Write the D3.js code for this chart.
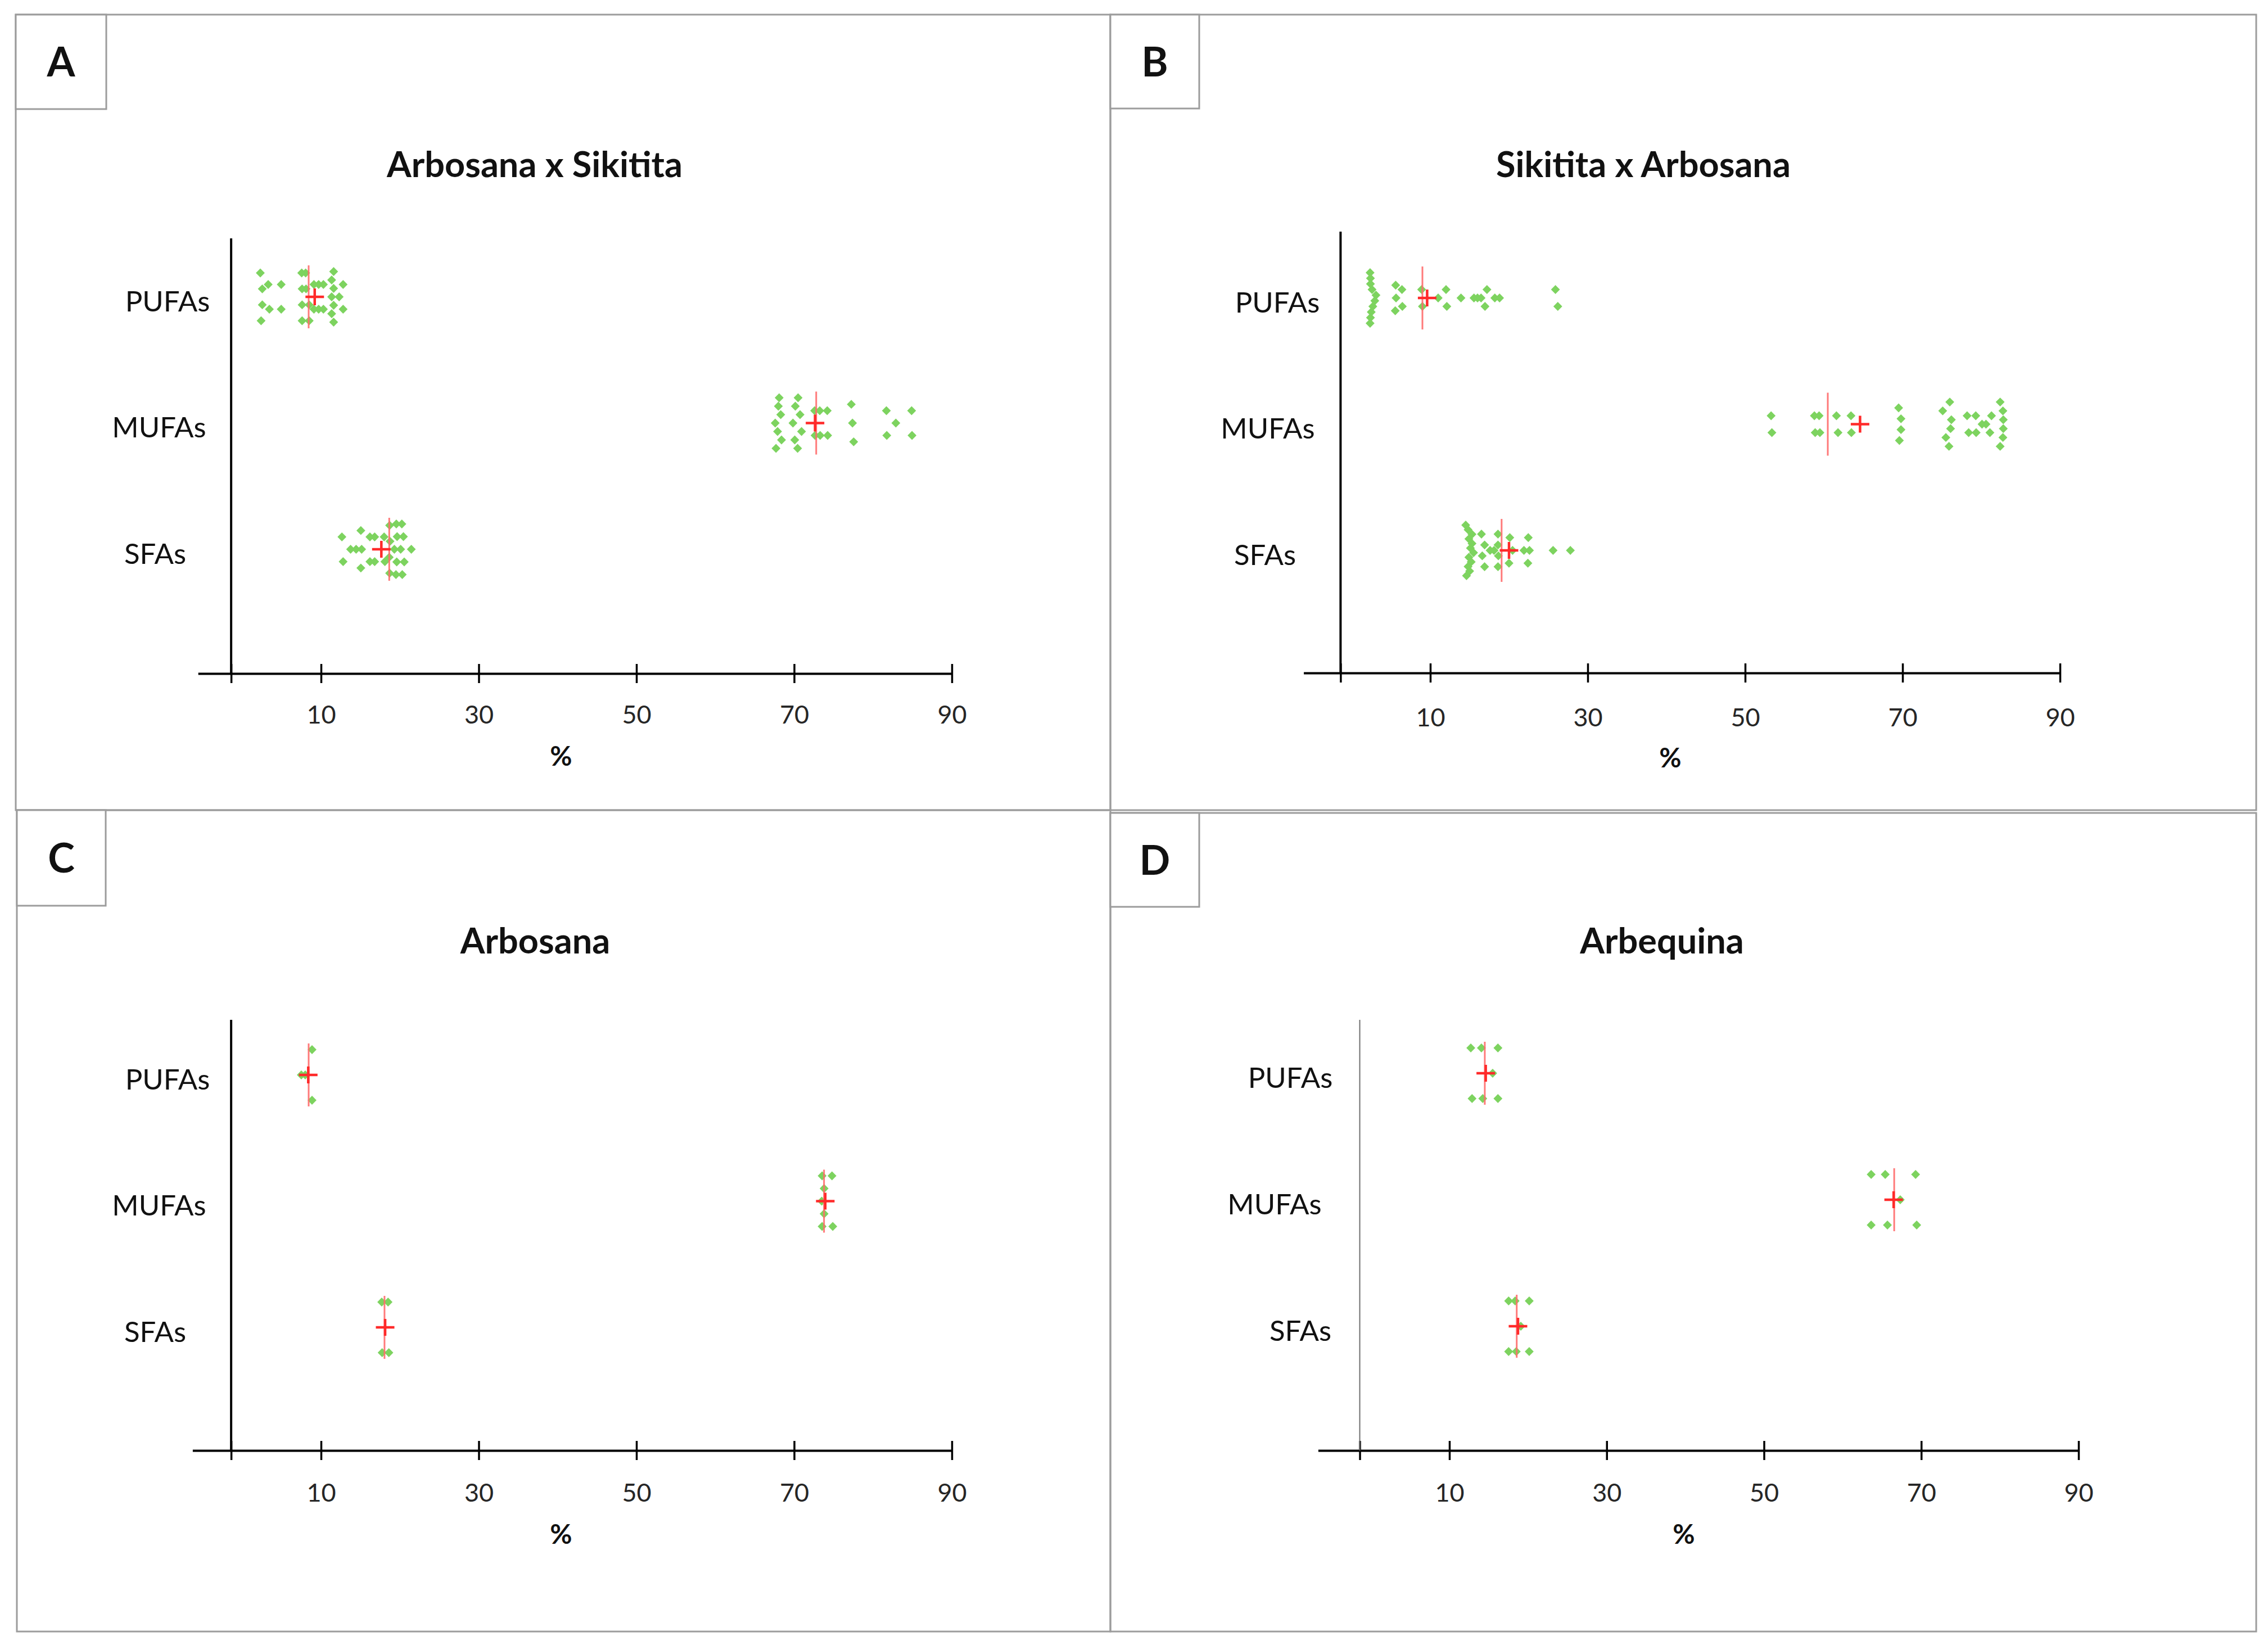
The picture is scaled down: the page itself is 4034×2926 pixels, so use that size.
<!DOCTYPE html>
<html>
<head>
<meta charset="utf-8">
<script src="https://cdn.jsdelivr.net/npm/d3@7"></script>
<style>
  body { margin: 0; background: #fff; }
  text { font-family: Lato, 'Open Sans', sans-serif; }
</style>
</head>
<body>
<div id="chart"></div>
<script>
let W = 4034,
    H = 2926

//#region data
const categories = ['PUFAs', 'MUFAs', 'SFAs']
const panelLetters = ['A', 'B', 'C', 'D']
const panelTitles = ['Arbosana x Sikitita', 'Sikitita x Arbosana', 'Arbosana', 'Arbequina']
const xTickValues = [10, 30, 50, 70, 90]
const xAxisTitle = '%'

// Arbosana x Sikitita (values listed top to bottom inside each column)
const asPUFAs = [2.3, 2.55, 2.55, 2.4, 3.3, 3.45, 4.95, 4.95, 7.55, 7.6, 7.6, 7.6, 8.05, 8.1,
    8.5, 8.5, 9.1, 9.1, 9.7, 9.7, 10.3, 10.3,
    11.6, 11.35, 11.6, 11.35, 11.6, 11.35, 11.6, 12.3, 12.8, 12.8]
const asMUFAs = [68.1, 68.0, 68.3, 67.6, 67.9, 68.4, 67.7,
    70.5, 70.15, 70.75, 69.85, 70.94, 70.08, 70.44,
    72.6, 72.65, 73.25, 73.3, 74.2, 74.25, 77.25, 77.4, 77.55,
    81.7, 81.75, 82.9, 84.9, 84.95]
const asSFAs = [12.65, 12.8, 13.75, 14.45, 15.05, 15.15, 15.05, 16.2, 16.2, 16.8, 16.8, 18.0, 18.1,
    18.7, 18.75, 18.65, 18.7,
    19.55, 19.65, 19.3, 19.6, 19.5,
    20.25, 20.45, 20.1, 20.55, 20.3, 21.45]
const asMeans = [9.2, 72.65, 17.65]
const asMedians = [8.43, 72.8, 18.65]

// Sikitita x Arbosana
const saPUFAs = [2.35, 2.4, 2.4, 2.6, 3.1, 2.95, 2.7, 2.5, 2.4, 2.35,
    5.6, 5.65, 5.55, 6.4, 6.45, 8.9, 9.0, 11.0, 12.0, 12.1, 13.9,
    15.55, 16.0, 16.45, 17.2, 16.95, 18.2, 18.8, 25.9, 26.2]
const saMUFAs = [53.3, 53.4, 58.8, 58.9, 59.4, 59.5, 61.6, 61.8, 63.45, 63.5,
    69.5, 69.8, 69.8, 69.6,
    76.0, 75.1, 76.2, 76.1, 75.5, 75.9,
    78.2, 78.4, 79.3, 79.35, 80.1, 80.6, 81.3, 81.1,
    82.4, 82.75, 82.8, 82.8, 82.75, 82.4]
const saSFAs = [14.5, 14.8, 15.3, 14.9, 15.3, 15.1, 15.5, 14.9, 15.2, 14.8, 15.0, 14.6,
    16.5, 16.9, 16.6, 16.9, 17.6, 18.1, 18.6, 18.6, 18.65, 18.6,
    20.1, 20.45, 20.0, 21.9, 22.45, 22.6, 22.4, 25.6, 27.8]
const saMeans = [9.6, 64.6, 20.0]
const saMedians = [9.0, 60.5, 19.06]

// Arbosana
const arbosanaPUFAs = [8.86, 7.5, 8.0, 8.86]
const arbosanaMUFAs = [73.55, 73.8, 74.8, 73.5, 73.8, 74.9, 73.55]
const arbosanaSFAs = [17.7, 18.5, 17.75, 18.6]
const arbosanaMeans = [8.38, 73.95, 18.13]
const arbosanaMedians = [8.43, 73.79, 18.05]

// Arbequina
const arbequinaPUFAs = [12.72, 14.07, 16.17, 15.5, 12.88, 14.24, 16.17]
const arbequinaMUFAs = [63.63, 65.42, 69.28, 67.33, 63.63, 65.7, 69.42]
const arbequinaSFAs = [17.53, 18.36, 20.15, 19.08, 17.53, 18.5, 20.15]
const arbequinaMeans = [14.62, 66.49, 18.72]
const arbequinaMedians = [14.5, 66.56, 18.56]
//#endregion

const yAxisAt = -1.4

// layout of the four panels (pixels)
let panels = [{
    groups: [asPUFAs, asMUFAs, asSFAs], means: asMeans, medians: asMedians,
    frame: [28, 26, 1947, 1415], box: [161, 168],
    x10: 571, x90: 1693, xMin: -5.6, yTop: 424, yBase: 1198, cat: [528, 977],
    labelX: [298, 283, 276], titleX: 951, titleY: 315, tickY: 1287, pctX: 998, pctY: 1362,
    spread: 22, thinY: false
}, {
    groups: [saPUFAs, saMUFAs, saSFAs], means: saMeans, medians: saMedians,
    frame: [1975, 26, 2038, 1415], box: [158, 167],
    x10: 2544, x90: 3664, xMin: -6.1, yTop: 412, yBase: 1197, cat: [530, 979],
    labelX: [2272, 2255, 2250], titleX: 2923, titleY: 315, tickY: 1292, pctX: 2971, pctY: 1365,
    spread: 15, thinY: false
}, {
    groups: [arbosanaPUFAs, arbosanaMUFAs, arbosanaSFAs], means: arbosanaMeans, medians: arbosanaMedians,
    frame: [30, 1441, 1945, 1461], box: [158, 170],
    x10: 571, x90: 1693, xMin: -6.3, yTop: 1814, yBase: 2580, cat: [1912, 2361],
    labelX: [298, 283, 276], titleX: 952, titleY: 1696, tickY: 2671, pctX: 998, pctY: 2746,
    spread: 45, thinY: false
}, {
    groups: [arbequinaPUFAs, arbequinaMUFAs, arbequinaSFAs], means: arbequinaMeans, medians: arbequinaMedians,
    frame: [1975, 1446, 2038, 1456], box: [158, 167],
    x10: 2578, x90: 3697, xMin: -6.7, yTop: 1814, yBase: 2580, cat: [1909, 2359],
    labelX: [2295, 2267, 2313], titleX: 2956, titleY: 1696, tickY: 2671, pctX: 2995, pctY: 2746,
    spread: 45, thinY: true
}]

// scatter-dot spreading: close values share a column, spread around the category line
let swarm = (vals, base) => {
    let pts = vals.map((v, i) => ({ v, i })).sort((a, b) => a.v - b.v)
    let bins = []
    pts.forEach(p => {
        let last = bins[bins.length - 1]
        if (last && p.v - last[last.length - 1].v <= 0.43) last.push(p)
        else bins.push([p])
    })
    let out = []
    bins.forEach(bin => {
        bin.sort((a, b) => a.i - b.i)
        let n = bin.length
        let h = n === 1 ? 0 : Math.min(45, base * Math.pow(n - 1, 0.6))
        bin.forEach((p, k) => out.push({ v: p.v, dy: n === 1 ? 0 : -h + 2 * h * k / (n - 1) }))
    })
    return out
}

let svg = d3.select('#chart')
    .append('svg')
    .attr('width', W)
    .attr('height', H)

svg.append('rect')
    .attr('width', W)
    .attr('height', H)
    .attr('fill', '#fff')

let diamond = d3.symbol().type(d3.symbolSquare).size(125)()
let frameColor = '#9c9c9c'

panels.forEach((p, pi) => {
    let g = svg.append('g')
    let [fx, fy, fw, fh] = p.frame

    g.append('rect')
        .attr('x', fx).attr('y', fy)
        .attr('width', fw).attr('height', fh)
        .attr('fill', 'none')
        .attr('stroke', frameColor)
        .attr('stroke-width', 3)
    g.append('rect')
        .attr('x', fx).attr('y', fy)
        .attr('width', p.box[0]).attr('height', p.box[1])
        .attr('fill', '#fff')
        .attr('stroke', frameColor)
        .attr('stroke-width', 3)
    g.append('text')
        .text(panelLetters[pi])
        .attr('x', fx + p.box[0] / 2)
        .attr('y', fy + p.box[1] / 2 + 26)
        .attr('text-anchor', 'middle')
        .attr('font-size', 72)
        .attr('font-weight', 700)
        .attr('fill', '#111')

    let k = (p.x90 - p.x10) / 80
    let x = d3.scaleLinear()
        .domain([p.xMin, 90])
        .range([p.x10 - (10 - p.xMin) * k, p.x90])
    let y = d3.scalePoint()
        .domain(categories)
        .range(p.cat)

    // title
    g.append('text')
        .text(panelTitles[pi])
        .attr('x', p.titleX)
        .attr('y', p.titleY)
        .attr('text-anchor', 'middle')
        .attr('font-size', 63)
        .attr('font-weight', 700)
        .attr('fill', '#111')

    // x axis, ticks cross the line
    let xAxis = d3.axisBottom(x)
        .tickValues([yAxisAt, ...xTickValues])
        .tickFormat(d => d === yAxisAt ? '' : d)
        .tickSize(17)
        .tickSizeOuter(0)
    let ax = g.append('g')
        .attr('transform', `translate(0,${p.yBase})`)
        .call(xAxis)
        .attr('font-family', 'Lato, sans-serif')
        .attr('font-size', 45)
    ax.select('.domain').attr('stroke', '#000').attr('stroke-width', 4)
    ax.selectAll('.tick line')
        .attr('y1', -17).attr('y2', 17)
        .attr('stroke', '#000').attr('stroke-width', 3.5)
    ax.selectAll('.tick text')
        .attr('y', p.tickY - p.yBase)
        .attr('dy', 0)
        .attr('fill', '#262626')

    // y axis line
    g.append('line')
        .attr('x1', x(yAxisAt)).attr('x2', x(yAxisAt))
        .attr('y1', p.yTop).attr('y2', p.yBase)
        .attr('stroke', p.thinY ? '#6f6f6f' : '#000')
        .attr('stroke-width', p.thinY ? 2 : 4)

    g.selectAll('.cat')
        .data(categories)
        .enter()
        .append('text')
        .attr('class', 'cat')
        .text(d => d)
        .attr('x', (d, i) => p.labelX[i])
        .attr('y', d => y(d) + 8)
        .attr('dy', '0.35em')
        .attr('text-anchor', 'middle')
        .attr('font-size', 51)
        .attr('fill', '#111')

    g.append('text')
        .text(xAxisTitle)
        .attr('x', p.pctX)
        .attr('y', p.pctY)
        .attr('text-anchor', 'middle')
        .attr('font-size', 48)
        .attr('font-weight', 700)
        .attr('fill', '#111')

    // dots
    p.groups.forEach((vals, ci) => {
        let cy = y(categories[ci])
        g.append('g')
            .selectAll('path')
            .data(swarm(vals, p.spread))
            .enter()
            .append('path')
            .attr('d', diamond)
            .attr('transform', d => `translate(${x(d.v)},${cy + d.dy}) rotate(45)`)
            .attr('fill', '#7dd35f')
    })

    // medians
    g.selectAll('.median')
        .data(p.medians)
        .enter()
        .append('line')
        .attr('class', 'median')
        .attr('x1', d => x(d)).attr('x2', d => x(d))
        .attr('y1', (d, i) => y(categories[i]) - 56)
        .attr('y2', (d, i) => y(categories[i]) + 56)
        .attr('stroke', '#ff6b6b')
        .attr('stroke-opacity', 0.9)
        .attr('stroke-width', 3)

    // means as plus signs
    let plus = g.selectAll('.mean')
        .data(p.means)
        .enter()
        .append('g')
        .attr('class', 'mean')
        .attr('transform', (d, i) => `translate(${x(d)},${y(categories[i])})`)
    plus.append('line')
        .attr('x1', -16.5).attr('x2', 16.5)
        .attr('stroke', '#ff2a2a').attr('stroke-width', 4.5)
    plus.append('line')
        .attr('y1', -15).attr('y2', 15)
        .attr('stroke', '#ff2a2a').attr('stroke-width', 4.5)
})
</script>
</body>
</html>
